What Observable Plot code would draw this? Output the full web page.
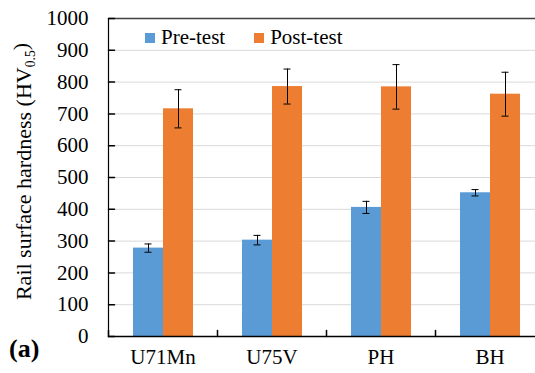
<!DOCTYPE html>
<html><head><meta charset="utf-8">
<script src="https://cdn.jsdelivr.net/npm/d3@7"></script>
<script src="https://cdn.jsdelivr.net/npm/@observablehq/plot@0.6"></script>
<style>
body{margin:0;background:#fff;}
#chart{position:relative;width:535px;height:373px;overflow:hidden;font-family:"Liberation Serif","Times New Roman",serif;color:#000;}
#chart svg{position:absolute;left:0;top:0;font-family:"Liberation Serif","Times New Roman",serif !important;}
#chart svg text{font-family:"Liberation Serif","Times New Roman",serif !important;}
.legend{position:absolute;top:27px;left:145px;display:flex;align-items:center;font-size:21px;line-height:1;}
.item{display:flex;align-items:center;margin-right:29px;}
.sw{display:inline-block;width:10px;height:10px;margin-right:6px;}
.tag{position:absolute;left:9px;top:336px;font-weight:bold;font-size:26px;line-height:1;}
</style></head><body><div id="chart"></div>
<script>
const categories = ["U71Mn", "U75V", "PH", "BH"];
const series = ["Pre-test", "Post-test"];
const preValues = [278, 303, 406, 452];
const preErrors = [13, 15, 19, 10];
const postValues = [716, 786, 785, 762];
const postErrors = [60, 55, 70, 69];
const yTicks = [0, 100, 200, 300, 400, 500, 600, 700, 800, 900, 1000];
const colors = ["#5B9BD5", "#ED7D31"];
const yLabel = "Rail surface hardness (HV0.5)";
const panelTag = "(a)";

const data = categories.flatMap((c, i) => [
  {cat: c, series: series[0], value: preValues[i], err: preErrors[i]},
  {cat: c, series: series[1], value: postValues[i], err: postErrors[i]}
]);

const tickShape = {draw(ctx, l) { ctx.moveTo(0, 0); ctx.lineTo(0, -l); }};

const svg = Plot.plot({
  width: 535, height: 373,
  marginLeft: 107, marginRight: -10, marginTop: 18, marginBottom: 37,
  style: {fontFamily: '"Liberation Serif","Times New Roman",serif', fontSize: "21px", color: "#000", background: "transparent", overflow: "hidden"},
  fx: {domain: categories, padding: 0, label: null},
  x: {domain: series, paddingInner: 0, paddingOuter: 0.766, axis: null},
  y: {domain: [0, 1000], label: null},
  color: {domain: series, range: colors},
  marks: [
    Plot.gridY(yTicks, {stroke: "#d9d9d9", strokeOpacity: 1}),
    Plot.barY(data, {fx: "cat", x: "series", y: "value", fill: "series"}),
    Plot.ruleX(data, {fx: "cat", x: "series", y1: d => d.value - d.err, y2: d => d.value + d.err, stroke: "#000"}),
    Plot.tickY(data, {fx: "cat", x: "series", y: d => d.value - d.err, stroke: "#000", insetLeft: 11.5, insetRight: 11.5}),
    Plot.tickY(data, {fx: "cat", x: "series", y: d => d.value + d.err, stroke: "#000", insetLeft: 11.5, insetRight: 11.5}),
    Plot.ruleY([1000], {stroke: "#404040", strokeWidth: 1.5}),
    Plot.ruleY([0], {stroke: "#000", strokeWidth: 1.5}),
    Plot.frame({anchor: "left", facetAnchor: "left", stroke: "#000", strokeWidth: 1.2}),
    Plot.vector([0], {frameAnchor: "bottom-left", length: 6, anchor: "start", shape: tickShape, stroke: "#000"}),
    Plot.vector(yTicks, {y: d => d, frameAnchor: "left", rotate: 90, length: 6, anchor: "start", shape: tickShape, stroke: "#000", facetAnchor: "left"}),
    Plot.axisY(yTicks, {anchor: "left", tickSize: 0, tickPadding: 20, label: null, tickFormat: d => String(d), fill: "#000"}),
    Plot.axisFx({anchor: "bottom", tickSize: 0, tickPadding: 13, label: null, fill: "#000"}),
    Plot.text([yLabel], {frameAnchor: "left", textAnchor: "middle", dx: -85, dy: -6, rotate: -90, facetAnchor: "left", fill: "#000", fontSize: 22})
  ]
});

// subscript in the y-axis title
d3.select(svg).selectAll("text").filter(function() { return this.textContent === yLabel; }).each(function() {
  const t = d3.select(this);
  t.text(null);
  t.append("tspan").text("Rail surface hardness (HV");
  t.append("tspan").attr("font-size", "0.62em").attr("dy", "0.3em").text("0.5");
  t.append("tspan").attr("dy", "-0.3em").text(")");
});

const chart = document.getElementById("chart");
chart.appendChild(svg);

const legend = document.createElement("div");
legend.className = "legend";
series.forEach((s, i) => {
  const item = document.createElement("div");
  item.className = "item";
  const sw = document.createElement("span");
  sw.className = "sw";
  sw.style.background = colors[i];
  const lab = document.createElement("span");
  lab.textContent = s;
  item.appendChild(sw); item.appendChild(lab);
  legend.appendChild(item);
});
chart.appendChild(legend);

const tag = document.createElement("div");
tag.className = "tag";
tag.textContent = panelTag;
chart.appendChild(tag);
</script></body></html>
